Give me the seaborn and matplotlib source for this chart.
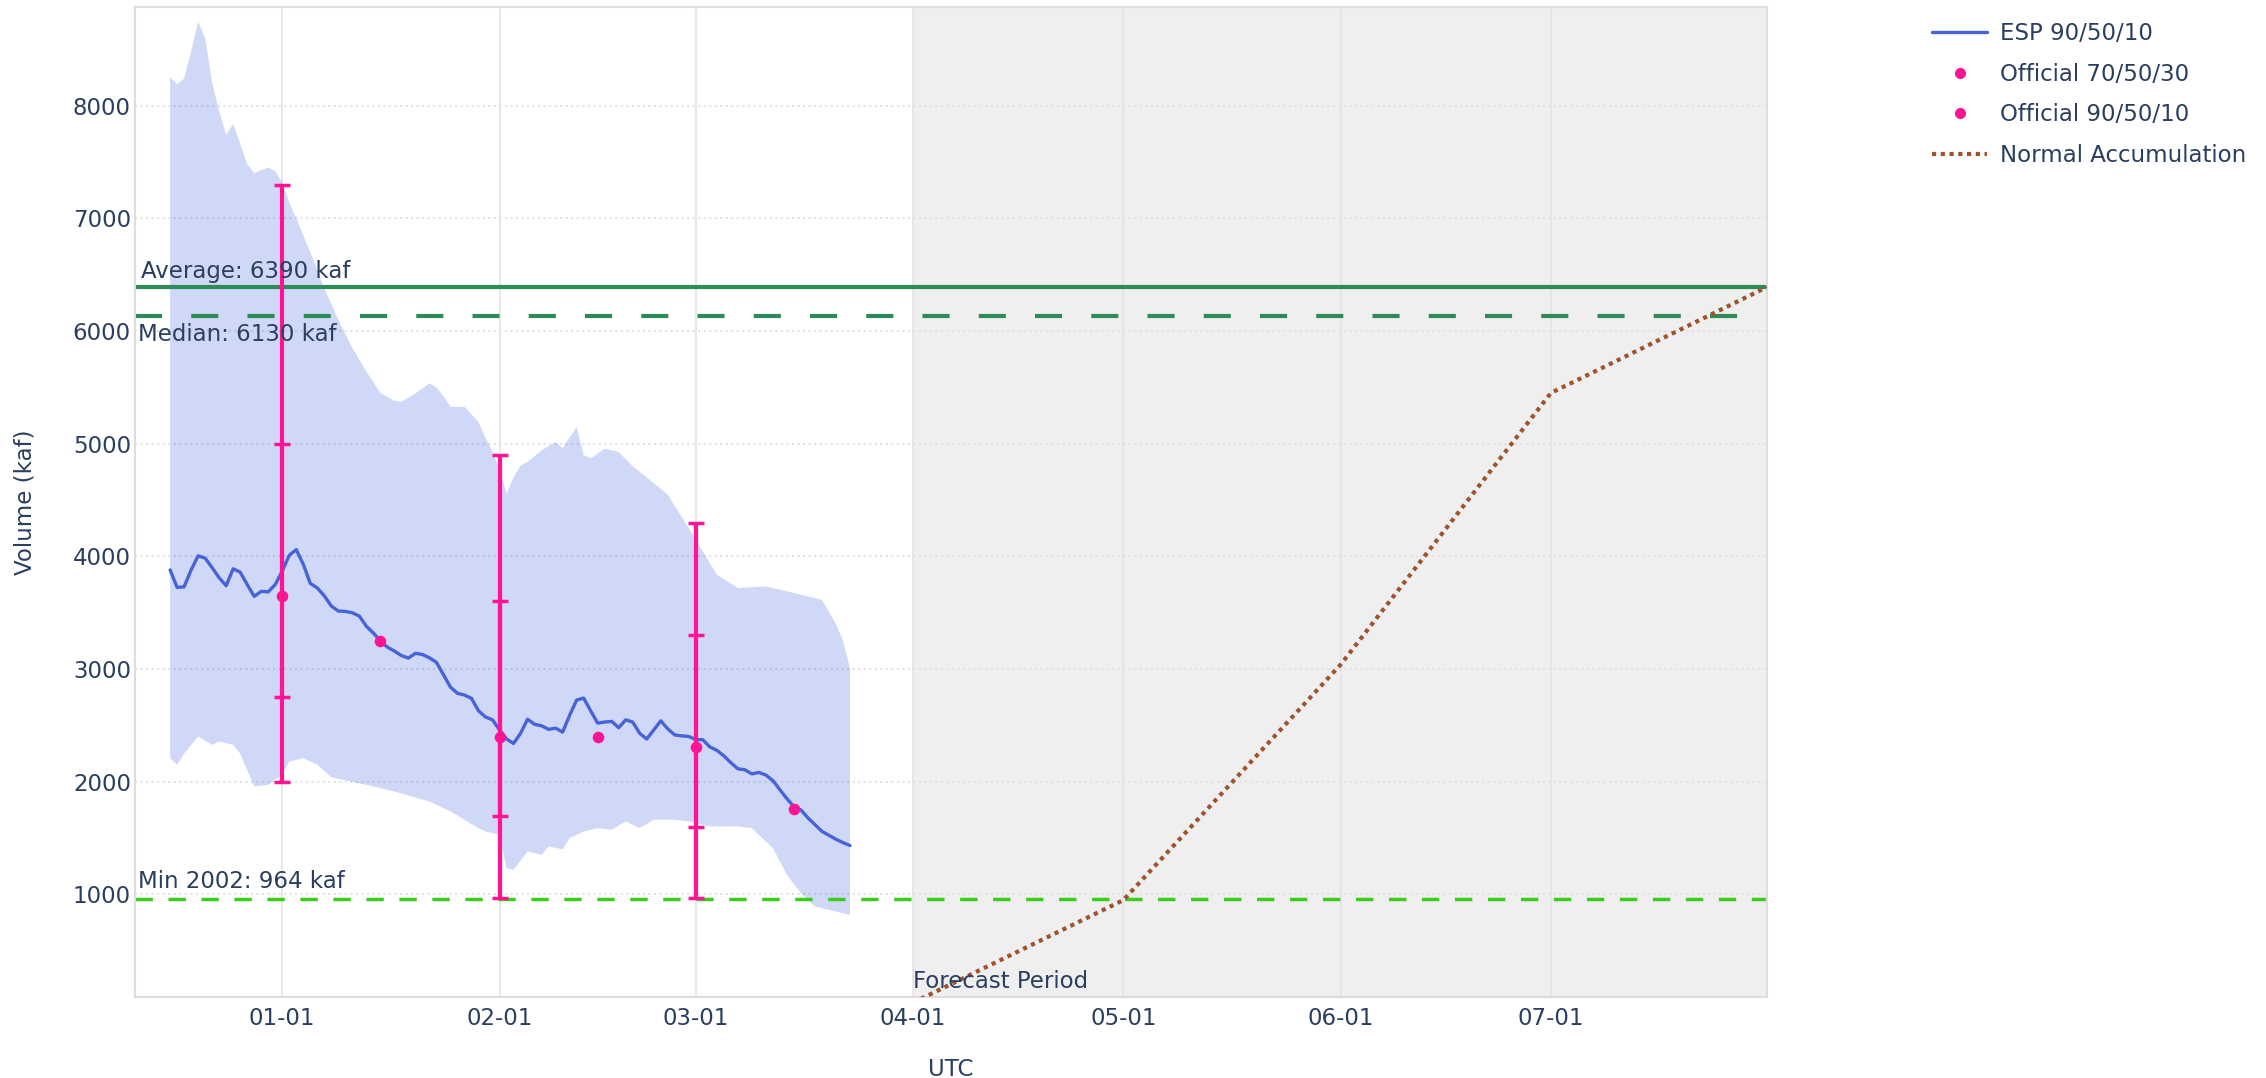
import pandas as pd
import numpy as np
import matplotlib
matplotlib.use("Agg")
import matplotlib.pyplot as plt
import matplotlib.dates as mdates
from matplotlib.lines import Line2D
import seaborn as sns

# --- data (days counted from 2025-01-01) ---
BASE = pd.Timestamp("2025-01-01")

esp_days = list(range(-16, 82))
esp_median = [
    3880, 3725, 3730, 3880, 4005, 3985, 3900, 3810, 3740, 3890, 3860, 3750,
    3645, 3690, 3685, 3750, 3870, 4010, 4060, 3930, 3760, 3720, 3650, 3560,
    3515, 3512, 3500, 3470, 3380, 3320, 3250, 3195, 3160, 3120, 3098, 3140,
    3130, 3100, 3060, 2950, 2840, 2785, 2770, 2740, 2630, 2575, 2550, 2460,
    2380, 2340, 2430, 2555, 2510, 2497, 2465, 2476, 2441, 2590, 2725, 2743,
    2630, 2521, 2530, 2536, 2480, 2550, 2530, 2430, 2380, 2460, 2541, 2470,
    2415, 2408, 2402, 2375, 2373, 2310, 2280, 2230, 2170, 2115, 2107, 2070,
    2083, 2060, 2010, 1930, 1850, 1780, 1750, 1680, 1620, 1560, 1525, 1490,
    1460, 1435,
]

upper_days = [-16, -15, -14, -13, -12, -11, -10, -9, -8, -7, -6, -5, -4, -2, -1,
              0, 1, 2, 4, 6, 8, 10, 12, 14, 16, 17, 19, 21, 22, 23, 24, 26, 28,
              29, 30, 31, 32, 33, 34, 35, 37, 39, 40, 42, 43, 44, 46, 48, 50,
              52, 54, 55, 58, 62, 65, 69, 73, 77, 79, 80, 81]
upper_vals = [8250, 8190, 8240, 8480, 8742, 8600, 8200, 7950, 7740, 7837, 7660,
              7480, 7400, 7451, 7420, 7317, 7140, 7000, 6700, 6380, 6100, 5850,
              5640, 5450, 5380, 5371, 5446, 5535, 5500, 5420, 5327, 5327, 5193,
              5050, 4930, 4778, 4555, 4700, 4807, 4837, 4941, 5015, 4960, 5149,
              4900, 4870, 4956, 4926, 4800, 4700, 4600, 4547, 4251, 3837, 3719,
              3734, 3675, 3615, 3400, 3250, 3009]

lower_days = [-16, -15, -14, -12, -10, -9, -7, -6, -4, -2, 0, 1, 3, 5, 7, 12, 16,
              21, 24, 28, 29, 31, 32, 33, 35, 37, 38, 40, 41, 43, 45, 47, 49, 51,
              53, 56, 58, 61, 65, 67, 70, 72, 74, 76, 78, 81]
lower_vals = [2210, 2151, 2250, 2402, 2328, 2358, 2328, 2250, 1959, 1973, 2062,
              2180, 2210, 2151, 2040, 1973, 1914, 1825, 1737, 1589, 1559, 1530,
              1234, 1219, 1382, 1352, 1426, 1400, 1500, 1559, 1589, 1574, 1648,
              1589, 1663, 1663, 1648, 1604, 1604, 1589, 1411, 1175, 1012, 893,
              864, 819]

official_dates = ["2025-01-01", "2025-02-01", "2025-03-01"]
official_50 = [3650, 2400, 2310]
official_70 = [2750, 1700, 1600]
official_30 = [5000, 3600, 3300]
official_90 = [2000, 965, 965]
official_10 = [7300, 4900, 4300]

mid_dates = ["2025-01-15", "2025-02-15", "2025-03-15"]
mid_50 = [3250, 2400, 1760]

normal_dates = ["2025-04-01", "2025-05-01", "2025-06-01", "2025-07-01", "2025-07-31T20:00"]
normal_vals = [40, 950, 3040, 5450, 6390]

average_kaf = 6390
median_kaf = 6130
min_kaf = 964
forecast_start = "2025-04-01"
x_end = "2025-07-31T20:00"

# --- style ---
sns.set_theme(style="white")
plt.rcParams["font.family"] = ["DejaVu Sans"]
TXT = "#2a3f5f"
FS = 16.5

fig = plt.figure(figsize=(22.66, 10.78), dpi=100)
ax = fig.add_axes([0.0596, 0.0751, 0.7202, 0.9184])

ax.axvspan(pd.Timestamp(forecast_start), pd.Timestamp(x_end),
           color="#efefef", zorder=0, lw=0)

esp = pd.DataFrame({"date": BASE + pd.to_timedelta(esp_days, unit="D"),
                    "median": esp_median})
up_x = mdates.date2num(BASE + pd.to_timedelta(upper_days, unit="D"))
lo_x = mdates.date2num(BASE + pd.to_timedelta(lower_days, unit="D"))
ax.fill(np.concatenate([up_x, lo_x[::-1]]),
        np.concatenate([upper_vals, lower_vals[::-1]]),
        color="#4169e1", alpha=0.25, lw=0, zorder=1)

ax.axhline(average_kaf, color="#2e8b57", lw=3, zorder=2)
ax.axhline(median_kaf, color="#2e8b57", lw=3, ls=(0, (6.5, 7)), zorder=2)
ax.axhline(min_kaf, color="#3ccc1e", lw=2.5, ls=(0, (5, 4.5)), zorder=2)

sns.lineplot(data=esp, x="date", y="median", color="#4863d8", lw=2.4,
             ax=ax, zorder=3, legend=False)

normal = pd.DataFrame({"date": pd.to_datetime(normal_dates, format="ISO8601"),
                       "v": normal_vals})
sns.lineplot(data=normal, x="date", y="v", color="#a0522d", lw=3,
             ls=(0, (1, 1.1)), ax=ax, zorder=3, legend=False)

off = pd.DataFrame({"date": pd.to_datetime(official_dates), "p50": official_50,
                    "p70": official_70, "p30": official_30,
                    "p90": official_90, "p10": official_10})
pink = "#ff1493"
ax.errorbar(off["date"], off["p50"],
            yerr=[off["p50"] - off["p90"], off["p10"] - off["p50"]],
            fmt="none", ecolor=pink, elinewidth=3, capsize=5.5, capthick=2.5, zorder=4)
ax.errorbar(off["date"], off["p50"],
            yerr=[off["p50"] - off["p70"], off["p30"] - off["p50"]],
            fmt="none", ecolor=pink, elinewidth=3, capsize=5.5, capthick=2.5, zorder=4)
sns.scatterplot(data=off, x="date", y="p50", color=pink, s=70, lw=0,
                ax=ax, zorder=5, legend=False)
mid = pd.DataFrame({"date": pd.to_datetime(mid_dates), "p50": mid_50})
sns.scatterplot(data=mid, x="date", y="p50", color=pink, s=70, lw=0,
                ax=ax, zorder=5, legend=False)

# --- annotations ---
ax.annotate(f"Average: {average_kaf} kaf", xy=(0, average_kaf),
            xycoords=("axes fraction", "data"), xytext=(4, 3),
            textcoords="offset points", ha="left", va="bottom",
            fontsize=FS, color=TXT, zorder=6)
ax.annotate(f"Median: {median_kaf} kaf", xy=(0, median_kaf),
            xycoords=("axes fraction", "data"), xytext=(2, -5),
            textcoords="offset points", ha="left", va="top",
            fontsize=FS, color=TXT, zorder=6)
ax.annotate(f"Min 2002: {min_kaf} kaf", xy=(0, min_kaf),
            xycoords=("axes fraction", "data"), xytext=(2, 4),
            textcoords="offset points", ha="left", va="bottom",
            fontsize=FS, color=TXT, zorder=6)
ax.annotate("Forecast Period", xy=(pd.Timestamp(forecast_start), 0),
            xycoords=("data", "axes fraction"), xytext=(0, 3),
            textcoords="offset points", ha="left", va="bottom",
            fontsize=FS, color=TXT, zorder=6)

# --- axes ---
ax.set_xlim(pd.Timestamp("2024-12-11"), pd.Timestamp(x_end))
ax.set_ylim(90, 8875)
ax.set_yticks(range(1000, 9000, 1000))
ax.xaxis.set_major_locator(mdates.MonthLocator(bymonthday=1))
ax.xaxis.set_major_formatter(mdates.DateFormatter("%m-%d"))
ax.tick_params(axis="x", length=0, pad=7, labelsize=FS, labelcolor=TXT)
ax.tick_params(axis="y", length=0, pad=3, labelsize=FS, labelcolor=TXT)
ax.set_axisbelow(True)
ax.grid(axis="x", color="#e4e4e4", lw=1.2, ls="-")
ax.grid(axis="y", color="#e2e2e2", lw=1.5, ls=":")
for s in ax.spines.values():
    s.set_color("#dddddd")
    s.set_linewidth(1.5)
ax.set_xlabel("UTC", fontsize=FS, color=TXT, labelpad=20)
ax.set_ylabel("Volume (kaf)", fontsize=FS, color=TXT, labelpad=26)

handles = [
    Line2D([], [], color="#4863d8", lw=2.4),
    Line2D([], [], color=pink, marker="o", ls="none", markersize=7),
    Line2D([], [], color=pink, marker="o", ls="none", markersize=7),
    Line2D([], [], color="#a0522d", lw=3, ls=(0, (1, 1.1))),
]
labels = ["ESP 90/50/10", "Official 70/50/30", "Official 90/50/10",
          "Normal Accumulation"]
leg = fig.legend(handles, labels, loc="upper left",
                 bbox_to_anchor=(1932 / 2266, 1 - 22 / 1078),
                 frameon=False, fontsize=FS, handlelength=2.4,
                 handletextpad=0.55, labelspacing=0.77, borderpad=0,
                 borderaxespad=0)
for t in leg.get_texts():
    t.set_color(TXT)

fig.savefig("out.png", dpi=100)
